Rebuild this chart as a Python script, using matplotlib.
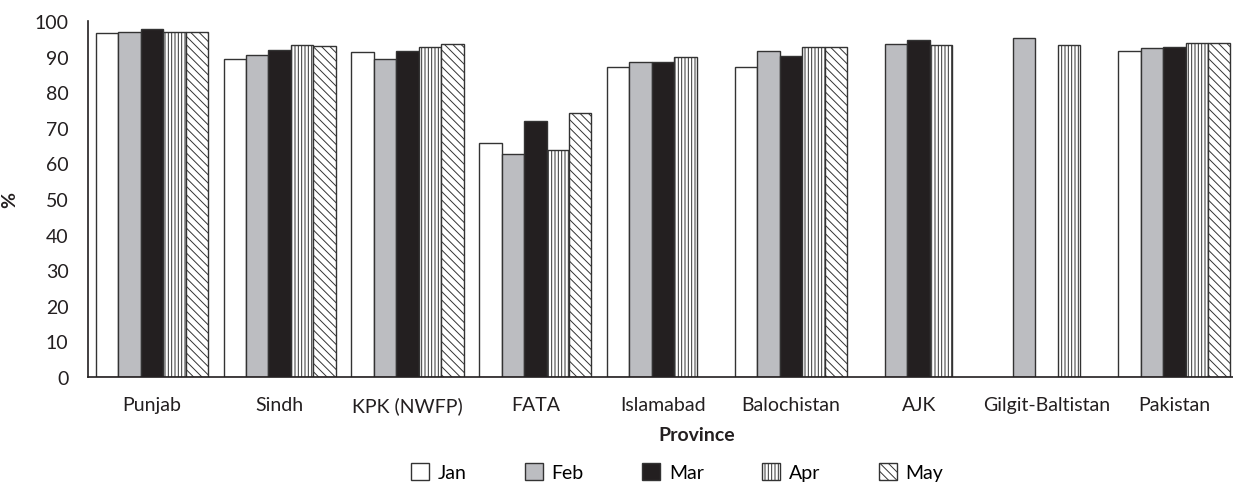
import matplotlib
matplotlib.use("Agg")
import matplotlib.pyplot as plt
import numpy as np

provinces = ["Punjab", "Sindh", "KPK (NWFP)", "FATA", "Islamabad", "Balochistan",
             "AJK", "Gilgit-Baltistan", "Pakistan"]
months = ["Jan", "Feb", "Mar", "Apr", "May"]
jan = [96.5, 89.3, 91.4, 65.8, 87.2, 87.2, np.nan, np.nan, 91.5]
feb = [96.8, 90.4, 89.2, 62.6, 88.6, 91.7, 93.4, 95.2, 92.4]
mar = [97.8, 91.9, 91.7, 71.8, 88.6, 90.2, 94.8, np.nan, 92.8]
apr = [96.8, 93.3, 92.6, 63.9, 90.0, 92.6, 93.3, 93.3, 93.7]
may = [96.8, 93.1, 93.5, 74.2, np.nan, 92.8, np.nan, np.nan, 93.7]
yticks = list(range(0, 101, 10))

plt.rcParams['font.family'] = ['Lato', 'DejaVu Sans']
plt.rcParams['hatch.linewidth'] = 0.7

FS = 14
fig = plt.figure(figsize=(12.33, 4.85), dpi=100)
ax = fig.add_axes([88/1233, 1 - 378/485, 1 - 88/1233, (378 - 22)/485])

series = [jan, feb, mar, apr, may]
styles = [
    dict(color="white", hatch=None),
    dict(color="#bcbdc1", hatch=None),
    dict(color="#231f20", hatch=None),
    dict(color="white", hatch="|||||"),
    dict(color="white", hatch="\\\\\\\\"),
]
x = np.arange(len(provinces))
bw = 0.1753
handles = []
for i, (vals, st) in enumerate(zip(series, styles)):
    b = ax.bar(x + (i - 2) * bw, vals, width=bw, facecolor=st["color"],
               edgecolor="#333333", linewidth=1.0, hatch=st["hatch"], label=months[i])
    handles.append(b)

ax.set_xlim(-0.5, (1233 - 88) / 127.8 - 0.5)
ax.set_ylim(0, 100)
ax.set_yticks(yticks)
ax.set_yticklabels([str(t) for t in yticks], fontsize=FS, color="#231f20")
ax.set_xticks(x)
ax.set_xticklabels(provinces, fontsize=FS, color="#231f20")
ax.tick_params(axis="both", length=0)
ax.tick_params(axis="y", pad=14)
ax.tick_params(axis="x", pad=14)
for s in ["top", "right"]:
    ax.spines[s].set_visible(False)
for s in ["left", "bottom"]:
    ax.spines[s].set_color("#231f20")
    ax.spines[s].set_linewidth(1.2)

ax.set_ylabel("%", fontsize=FS, fontweight="bold", color="#231f20")
ax.yaxis.set_label_coords(-(88 - 18) / 1145, 0.5)
ax.set_xlabel("Province", fontsize=FS, fontweight="bold", color="#231f20")
ax.xaxis.set_label_coords((697 - 88) / 1145, -(427 - 378) / 356)

fig.legend(handles=handles, labels=months, loc="center", bbox_to_anchor=(677/1233, 1 - 473/485),
           ncol=5, frameon=False, fontsize=FS, handlelength=0.93, handleheight=0.93,
           columnspacing=3.0, handletextpad=0.45, borderpad=0.2)

fig.savefig("out.png", dpi=100)
